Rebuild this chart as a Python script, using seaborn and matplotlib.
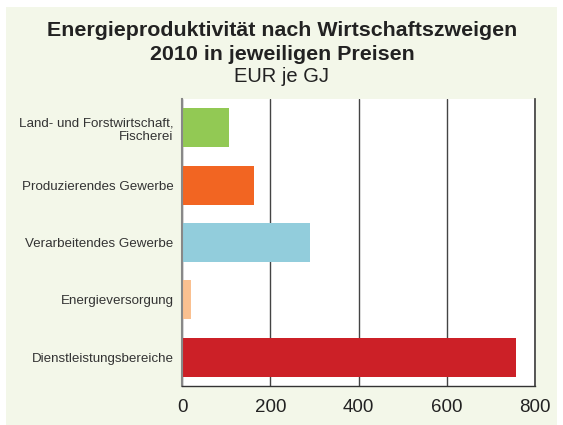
import matplotlib
matplotlib.use("Agg")
import matplotlib.pyplot as plt
import seaborn as sns
import pandas as pd
from matplotlib.patches import Rectangle

categories = ["Land- und Forstwirtschaft,\nFischerei", "Produzierendes Gewerbe",
              "Verarbeitendes Gewerbe", "Energieversorgung", "Dienstleistungsbereiche"]
values = [106, 163, 290, 20, 757]
colors = ["#92C954", "#F26522", "#92CDDC", "#FAC090", "#CC2027"]
xticks = [0, 200, 400, 600, 800]

sns.set_theme(style="white")
plt.rcParams['font.family'] = ['Liberation Sans', 'DejaVu Sans']

fig = plt.figure(figsize=(5.63, 4.25), dpi=100)
fig.patch.set_facecolor("white")
W, H = 563, 425
fig.patches.append(Rectangle((6 / W, 0), (557 - 6) / W, (425 - 7) / H,
                             transform=fig.transFigure, facecolor="#F3F7E9",
                             edgecolor="none", zorder=-10))

ax = fig.add_axes([182 / W, 1 - 386 / H, (535 - 182) / W, (386 - 99) / H])
df = pd.DataFrame({"cat": categories, "val": values})
sns.barplot(data=df, x="val", y="cat", hue="cat", palette=colors, legend=False,
            width=0.68, ax=ax, saturation=1, linewidth=0)

ax.set_facecolor("white")
ax.set_xlim(0, 800)
ax.set_xticks(xticks)
ax.set_xticklabels([str(v) for v in xticks], fontsize=13.5, color="#222222")
ax.tick_params(axis="x", direction="out", length=5, width=1, color="#333333", pad=4)
ax.tick_params(axis="y", length=0, pad=6)
for lab in ax.get_yticklabels():
    lab.set_fontsize(9.6)
    lab.set_color("#333333")
    lab.set_horizontalalignment("right")
    lab.set_multialignment("right")
ax.set_xlabel("")
ax.set_ylabel("")
ax.grid(axis="x", color="#444444", linewidth=1)
ax.set_axisbelow(True)
ax.spines["top"].set_visible(False)
ax.spines["right"].set_color("#444444")
ax.spines["left"].set_color("#888888")
ax.spines["left"].set_linewidth(1.5)
ax.spines["bottom"].set_color("#333333")
ax.spines["bottom"].set_linewidth(1)

fig.text(282 / W, 1 - 30 / H, "Energieproduktivität nach Wirtschaftszweigen",
         ha="center", va="center", fontsize=15.4, fontweight="bold", color="#222222")
fig.text(282 / W, 1 - 54 / H, "2010 in jeweiligen Preisen",
         ha="center", va="center", fontsize=15.4, fontweight="bold", color="#222222")
fig.text(282 / W, 1 - 77 / H, "EUR je GJ",
         ha="center", va="center", fontsize=14.5, color="#222222")

fig.savefig("out.png", dpi=100)
